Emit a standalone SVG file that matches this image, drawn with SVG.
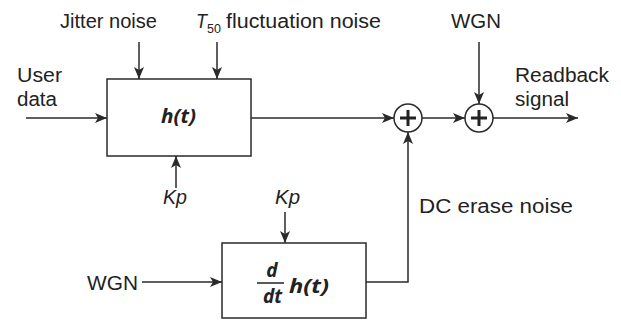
<svg xmlns="http://www.w3.org/2000/svg" width="621" height="320" viewBox="0 0 621 320">
<defs>
<style>
.t{font-family:"Liberation Sans",Arial,sans-serif;font-size:20px;fill:#222}
.i{font-style:italic}
.s{font-size:12.5px}
.m{font-family:"Open Sans","Liberation Sans",sans-serif;font-weight:bold;font-style:italic;font-size:19px;fill:#222}
.ln{fill:none;stroke:#2a2a2a;stroke-width:1.5}
.bx{fill:#fff;stroke:#2a2a2a;stroke-width:1.5}
.pl{stroke:#222;stroke-width:3;fill:none}
</style>
<marker id="ah" markerWidth="12" markerHeight="10" viewBox="0 0 12 10" refX="12" refY="5" orient="auto" markerUnits="userSpaceOnUse">
<path d="M0,0 L12,5 L0,10 L3,5 Z" fill="#2a2a2a"/>
</marker>
</defs>
<rect width="621" height="320" fill="#fff"/>
<g id="connectors">
<line class="ln" x1="26" y1="118" x2="107" y2="118" marker-end="url(#ah)"/>
<line class="ln" x1="139" y1="42" x2="139" y2="79" marker-end="url(#ah)"/>
<line class="ln" x1="217" y1="42" x2="217" y2="79" marker-end="url(#ah)"/>
<line class="ln" x1="176" y1="188" x2="176" y2="156" marker-end="url(#ah)"/>
<line class="ln" x1="251" y1="118" x2="394" y2="118" marker-end="url(#ah)"/>
<line class="ln" x1="422" y1="118" x2="465" y2="118" marker-end="url(#ah)"/>
<line class="ln" x1="479" y1="42" x2="479" y2="104" marker-end="url(#ah)"/>
<line class="ln" x1="493" y1="118" x2="578" y2="118" marker-end="url(#ah)"/>
<line class="ln" x1="285" y1="212" x2="285" y2="243" marker-end="url(#ah)"/>
<line class="ln" x1="142" y1="282" x2="222" y2="282" marker-end="url(#ah)"/>
<path class="ln" d="M366,282 H408 V132" marker-end="url(#ah)"/>
</g>
<g id="h-block">
<rect class="bx" x="107" y="79" width="144" height="77"/>
<text class="m" x="161" y="123" textLength="35" lengthAdjust="spacingAndGlyphs">h(t)</text>
</g>
<g id="dh-block">
<rect class="bx" x="222" y="243" width="144" height="75"/>
<text class="m" x="272" y="277" text-anchor="middle">d</text>
<line x1="257" y1="283" x2="284" y2="283" stroke="#222" stroke-width="1.5"/>
<text class="m" x="272.5" y="303" text-anchor="middle">dt</text>
<text class="m" x="289" y="293" textLength="40" lengthAdjust="spacingAndGlyphs">h(t)</text>
</g>
<g id="sum1">
<circle class="bx" cx="408" cy="118" r="14"/>
<path class="pl" d="M400,118 H416 M408,110 V126"/>
</g>
<g id="sum2">
<circle class="bx" cx="479" cy="118" r="14"/>
<path class="pl" d="M471,118 H487 M479,110 V126"/>
</g>
<g id="labels">
<text class="t" x="60" y="28" textLength="97" lengthAdjust="spacingAndGlyphs">Jitter noise</text>
<text class="t i" x="196" y="28" textLength="11" lengthAdjust="spacingAndGlyphs">T</text>
<text class="t s" x="207" y="33">50</text>
<text class="t" x="226" y="28" textLength="155" lengthAdjust="spacingAndGlyphs">fluctuation noise</text>
<text class="t" x="451" y="28" textLength="50" lengthAdjust="spacingAndGlyphs">WGN</text>
<text class="t" x="17" y="82" textLength="45" lengthAdjust="spacingAndGlyphs">User</text>
<text class="t" x="17" y="106" textLength="40" lengthAdjust="spacingAndGlyphs">data</text>
<text class="t" x="515" y="82" textLength="94" lengthAdjust="spacingAndGlyphs">Readback</text>
<text class="t" x="515" y="106" textLength="54" lengthAdjust="spacingAndGlyphs">signal</text>
<text class="t i" x="163" y="204" textLength="24" lengthAdjust="spacingAndGlyphs">Kp</text>
<text class="t i" x="275" y="204" textLength="25" lengthAdjust="spacingAndGlyphs">Kp</text>
<text class="t" x="419" y="213" textLength="154" lengthAdjust="spacingAndGlyphs">DC erase noise</text>
<text class="t" x="87" y="290" textLength="51" lengthAdjust="spacingAndGlyphs">WGN</text>
</g>
</svg>
